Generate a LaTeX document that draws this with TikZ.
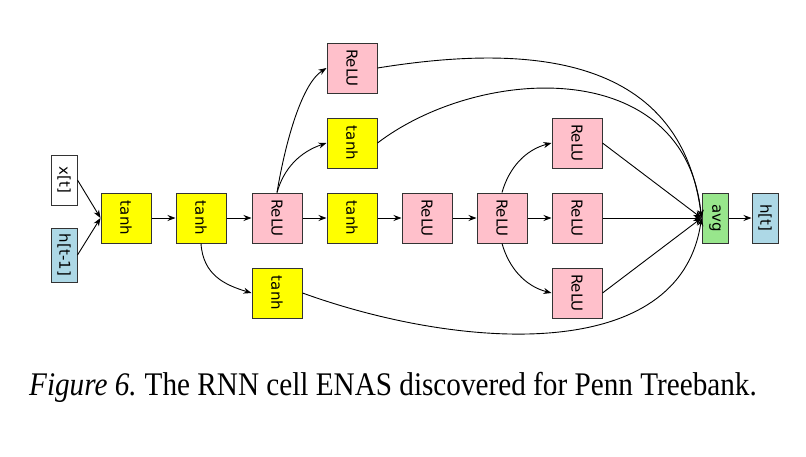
\documentclass[tikz,border=0pt]{standalone}
\usepackage{fontspec}
\setmainfont{Liberation Serif}
\newfontfamily\opfont{DejaVu Sans}
\usepackage{graphicx}
\definecolor{relu}{RGB}{255,192,203}
\definecolor{tanhy}{RGB}{255,255,0}
\definecolor{state}{RGB}{173,216,230}
\definecolor{avggreen}{RGB}{152,230,140}
\usetikzlibrary{positioning,arrows.meta}
\tikzset{%
  op/.style={draw=black!80, line width=1pt, rectangle, inner sep=0pt,
    minimum width=50pt, minimum height=50pt,
    font=\fontsize{15}{15}\selectfont\opfont},% one operation of the cell
  reluop/.style={op, fill=relu},% ReLU box
  tanhop/.style={op, fill=tanhy},% tanh box
  slim/.style={op, minimum width=26pt},% input / output / avg box
  link/.style={->, line width=0.9pt}% edge of the cell
}
\newcommand*{\vtext}[1]{\rotatebox{-90}{#1}}

\begin{document}
\begin{tikzpicture}[x=1pt, y=-1pt, >={Stealth[length=8pt,width=6pt]}]
\useasboundingbox (0,0) rectangle (806,456);

\node[slim, fill=white] (x) at (64,180) {\vtext{x[t]}};
\node[slim, fill=state, minimum height=54pt] (hp) at (64,255) {\vtext{h[t-1]}};

\node[tanhop] (a) at (126,218) {\vtext{tanh}};
\node[tanhop] (b) at (201,218) {\vtext{tanh}};
\node[reluop] (c) at (277,218) {\vtext{ReLU}};
\node[tanhop] (d) at (352,218) {\vtext{tanh}};
\node[reluop] (e) at (427,218) {\vtext{ReLU}};
\node[reluop] (f) at (502,218) {\vtext{ReLU}};
\node[reluop] (g) at (577,218) {\vtext{ReLU}};

\node[reluop] (ct) at (352,68) {\vtext{ReLU}};
\node[tanhop] (cm) at (352,143) {\vtext{tanh}};
\node[tanhop] (bl) at (277,293) {\vtext{tanh}};
\node[reluop] (fu) at (577,143) {\vtext{ReLU}};
\node[reluop] (fl) at (577,293) {\vtext{ReLU}};

\node[slim, fill=avggreen] (avg) at (715,218) {\vtext{avg}};
\node[slim, fill=state] (h) at (765,218) {\vtext{h[t]}};

% main chain
\draw[link] (x.east) -- (a.west);
\draw[link] (hp.east) -- (a.west);
\draw[link] (a) -- (b);
\draw[link] (b) -- (c);
\draw[link] (c) -- (d);
\draw[link] (d) -- (e);
\draw[link] (e) -- (f);
\draw[link] (f) -- (g);

% branches
\draw[link] (b.south) .. controls (203,275) and (225,285) .. (bl.west);
\draw[link] (c.north) .. controls (284,150) and (300,85) .. (ct.west);
\draw[link] (c.north) .. controls (284,168) and (300,152) .. (cm.west);
\draw[link] (f.north) .. controls (509,168) and (525,150) .. (fu.west);
\draw[link] (f.south) .. controls (509,268) and (525,286) .. (fl.west);

% into avg
\draw[link] (ct.east) .. controls (520,45) and (680,50) .. (avg.west);
\draw[link] (cm.east) .. controls (480,65) and (685,55) .. (avg.west);
\draw[link] (fu.east) -- (avg.west);
\draw[link] (g.east) -- (avg.west);
\draw[link] (fl.east) -- (avg.west);
\draw[link] (bl.east) .. controls (460,350) and (680,365) .. (avg.west);
\draw[link] (avg) -- (h);

\node[anchor=base west, inner sep=0pt, xscale=0.885, font=\fontsize{33}{38}\selectfont] (cap) at (29,395)
  {\textit{Figure 6.}\kern-2pt{} The RNN cell ENAS discovered for Penn Treebank.};
\end{tikzpicture}
\end{document}
